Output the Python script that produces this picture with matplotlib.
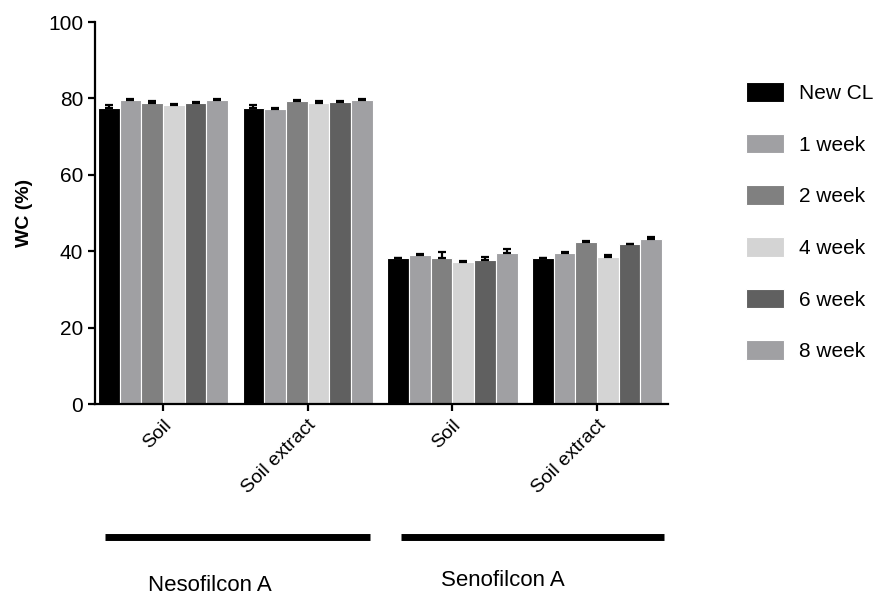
import matplotlib
matplotlib.use("Agg")
import matplotlib.pyplot as plt
import matplotlib.transforms as mtransforms
import numpy as np

plt.rcParams['font.family'] = ['Liberation Sans', 'DejaVu Sans']

categories = ["Soil", "Soil extract", "Soil", "Soil extract"]
materials = ["Nesofilcon A", "Senofilcon A"]
series_names = ["New CL", "1 week", "2 week", "4 week", "6 week", "8 week"]
colors = ["#000000", "#a0a0a3", "#808080", "#d4d4d4", "#606060", "#a0a0a3"]

new_cl = [77.6, 77.5, 38.2, 38.2]
week1 = [79.6, 77.3, 39.0, 39.5]
week2 = [78.9, 79.4, 38.2, 42.5]
week4 = [78.3, 78.9, 37.2, 38.5]
week6 = [78.8, 79.1, 37.6, 42.0]
week8 = [79.5, 79.5, 39.6, 43.3]

err_new_cl = [0.8, 0.8, 0.0, 0.0]
err_week1 = [0.3, 0.3, 0.3, 0.3]
err_week2 = [0.3, 0.3, 1.6, 0.3]
err_week4 = [0.3, 0.3, 0.3, 0.4]
err_week6 = [0.3, 0.3, 0.8, 0.0]
err_week8 = [0.4, 0.3, 0.9, 0.3]

values = [new_cl, week1, week2, week4, week6, week8]
errors = [err_new_cl, err_week1, err_week2, err_week4, err_week6, err_week8]

fig = plt.figure(figsize=(8.78, 5.95), dpi=100)
ax = fig.add_axes([0.1082, 0.321, 0.6526, 0.642])

x = np.arange(len(categories))
n = len(series_names)
bw = 0.15
handles = []
for i, (vals, errs) in enumerate(zip(values, errors)):
    pos = x + (i - (n - 1) / 2) * bw
    b = ax.bar(pos, vals, width=bw, color=colors[i], edgecolor="white",
               linewidth=0.8, label=series_names[i], zorder=2)
    handles.append(b)
    ax.errorbar(pos, vals, yerr=[np.zeros(len(errs)), errs], fmt="none",
                ecolor="black", elinewidth=1.6, capsize=3, capthick=1.6, zorder=3)

ax.set_xlim(-0.47, 3.49)
ax.set_ylim(0, 100)
ax.set_yticks([0, 20, 40, 60, 80, 100])
ax.set_xticks(x)
ax.set_xticklabels(categories, rotation=45, ha="right", rotation_mode="anchor",
                   fontsize=14)
ax.spines["top"].set_visible(False)
ax.spines["right"].set_visible(False)
for s in ["left", "bottom"]:
    ax.spines[s].set_linewidth(1.6)
ax.tick_params(axis="both", direction="out", length=5, width=1.6, labelsize=15)
ax.tick_params(axis="x", pad=4, labelsize=14)
ax.set_ylabel("WC (%)", fontsize=14, fontweight="bold", labelpad=11)

# group brackets
trans = mtransforms.blended_transform_factory(ax.transData, fig.transFigure)
line_spans = [(-0.40, 1.434), (1.648, 3.46)]
label_x = [0.325, 2.35]
label_y = [0.0075, 0.0145]
for (x0, x1), lx, ly, name in zip(line_spans, label_x, label_y, materials):
    ax.plot([x0, x1], [0.0975, 0.0975], transform=trans, color="black",
            linewidth=5, solid_capstyle="butt", clip_on=False)
    ax.text(lx, ly, name, transform=trans, ha="center", va="baseline",
            fontsize=16)

fig.legend(handles=handles, labels=series_names, loc="upper left",
           bbox_to_anchor=(0.8405, 0.876), frameon=False, fontsize=15,
           handlelength=1.8, handleheight=1.06, handletextpad=0.72,
           labelspacing=1.48, borderaxespad=0)

fig.savefig("out.png", dpi=100)
